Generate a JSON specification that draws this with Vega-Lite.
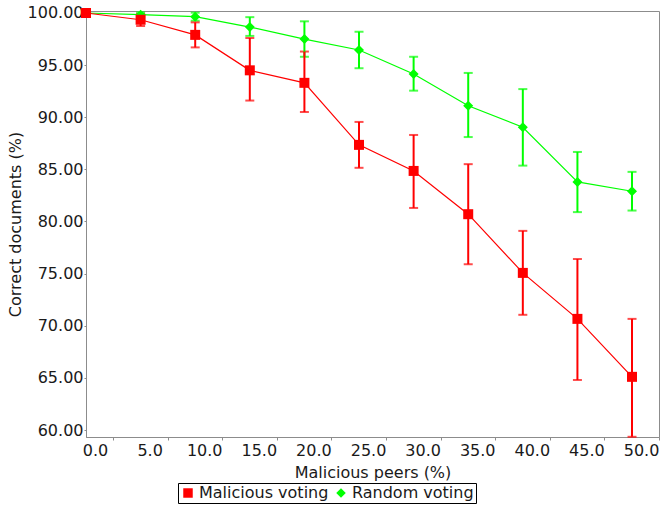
{
  "$schema": "https://vega.github.io/schema/vega-lite/v6.json",
  "width": 573,
  "height": 426,
  "autosize": {"type": "none"},
  "padding": {"left": 86, "top": 11, "right": 1, "bottom": 71},
  "background": "white",
  "config": {
    "font": "DejaVu Sans",
    "view": {"stroke": "#8c8c8c", "strokeWidth": 1},
    "axis": {
      "domainColor": "#8c8c8c",
      "tickColor": "#8c8c8c",
      "labelColor": "#1a1a1a",
      "titleColor": "#1a1a1a",
      "labelFont": "DejaVu Sans",
      "titleFont": "DejaVu Sans",
      "labelFontSize": 16,
      "titleFontSize": 16,
      "titleFontWeight": "normal",
      "grid": false
    },
    "legend": {
      "labelFont": "DejaVu Sans",
      "labelFontSize": 16,
      "labelColor": "#1a1a1a"
    }
  },
  "data": {
    "values": [
      {"peers": 0, "series": "Random voting", "correct": 100.0, "lo": 100.0, "hi": 100.0},
      {"peers": 5, "series": "Random voting", "correct": 99.84, "lo": 99.6, "hi": 100.05},
      {"peers": 10, "series": "Random voting", "correct": 99.65, "lo": 99.26, "hi": 100.03},
      {"peers": 15, "series": "Random voting", "correct": 98.65, "lo": 97.8, "hi": 99.6},
      {"peers": 20, "series": "Random voting", "correct": 97.5, "lo": 95.8, "hi": 99.2},
      {"peers": 25, "series": "Random voting", "correct": 96.45, "lo": 94.7, "hi": 98.2},
      {"peers": 30, "series": "Random voting", "correct": 94.15, "lo": 92.55, "hi": 95.8},
      {"peers": 35, "series": "Random voting", "correct": 91.1, "lo": 88.1, "hi": 94.25},
      {"peers": 40, "series": "Random voting", "correct": 89.04, "lo": 85.36, "hi": 92.7},
      {"peers": 45, "series": "Random voting", "correct": 83.8, "lo": 80.9, "hi": 86.67},
      {"peers": 50, "series": "Random voting", "correct": 82.9, "lo": 81.05, "hi": 84.76},
      {"peers": 0, "series": "Malicious voting", "correct": 100.0, "lo": 100.0, "hi": 100.0},
      {"peers": 5, "series": "Malicious voting", "correct": 99.35, "lo": 98.75, "hi": 99.9},
      {"peers": 10, "series": "Malicious voting", "correct": 97.9, "lo": 96.7, "hi": 99.1},
      {"peers": 15, "series": "Malicious voting", "correct": 94.5, "lo": 91.6, "hi": 97.6},
      {"peers": 20, "series": "Malicious voting", "correct": 93.3, "lo": 90.5, "hi": 96.3},
      {"peers": 25, "series": "Malicious voting", "correct": 87.35, "lo": 85.15, "hi": 89.55},
      {"peers": 30, "series": "Malicious voting", "correct": 84.85, "lo": 81.3, "hi": 88.3},
      {"peers": 35, "series": "Malicious voting", "correct": 80.7, "lo": 75.9, "hi": 85.5},
      {"peers": 40, "series": "Malicious voting", "correct": 75.07, "lo": 71.05, "hi": 79.1},
      {"peers": 45, "series": "Malicious voting", "correct": 70.66, "lo": 64.8, "hi": 76.4},
      {"peers": 50, "series": "Malicious voting", "correct": 65.1, "lo": 59.35, "hi": 70.66}
    ]
  },
  "encoding": {
    "x": {
      "field": "peers",
      "type": "quantitative",
      "scale": {"domain": [0, 52.47], "nice": false, "zero": false},
      "axis": {
        "title": "Malicious peers (%)",
        "values": [0, 5, 10, 15, 20, 25, 30, 35, 40, 45, 50],
        "format": ".1f",
        "tickSize": 3,
        "tickOffset": 27,
        "labelOffset": -18,
        "labelPadding": 2,
        "labelFlush": false,
        "titlePadding": 6
      }
    },
    "color": {
      "field": "series",
      "type": "nominal",
      "scale": {"domain": ["Malicious voting", "Random voting"], "range": ["#ff0000", "#00ff00"]},
      "legend": {
        "title": null,
        "orient": "none",
        "legendX": 92,
        "legendY": 472,
        "direction": "horizontal",
        "strokeColor": "#000000",
        "fillColor": "#ffffff",
        "padding": 2,
        "cornerRadius": 0,
        "symbolSize": 90,
        "symbolStrokeWidth": 0,
        "symbolOpacity": 1,
        "labelOffset": 3,
        "columnPadding": 4
      }
    }
  },
  "layer": [
    {
      "mark": {"type": "line", "strokeWidth": 1.2},
      "encoding": {
        "y": {
          "field": "correct",
          "type": "quantitative",
          "scale": {"domain": [59.33, 100.19], "nice": false, "zero": false},
          "axis": {
            "title": "Correct documents (%)",
            "values": [60, 62.5, 65, 67.5, 70, 72.5, 75, 77.5, 80, 82.5, 85, 87.5, 90, 92.5, 95, 97.5, 100],
            "format": ".2f",
            "tickSize": 2,
            "labelPadding": 1,
            "titlePadding": 4
          }
        }
      }
    },
    {
      "mark": {"type": "errorbar", "ticks": {"size": 9, "thickness": 2}, "thickness": 2},
      "encoding": {
        "y": {"field": "lo", "type": "quantitative", "title": "Correct documents (%)"},
        "y2": {"field": "hi"}
      }
    },
    {
      "mark": {"type": "point", "filled": true, "size": 100, "opacity": 1},
      "encoding": {
        "y": {"field": "correct", "type": "quantitative"},
        "shape": {
          "field": "series",
          "type": "nominal",
          "scale": {"domain": ["Malicious voting", "Random voting"], "range": ["square", "diamond"]}
        }
      }
    }
  ]
}
